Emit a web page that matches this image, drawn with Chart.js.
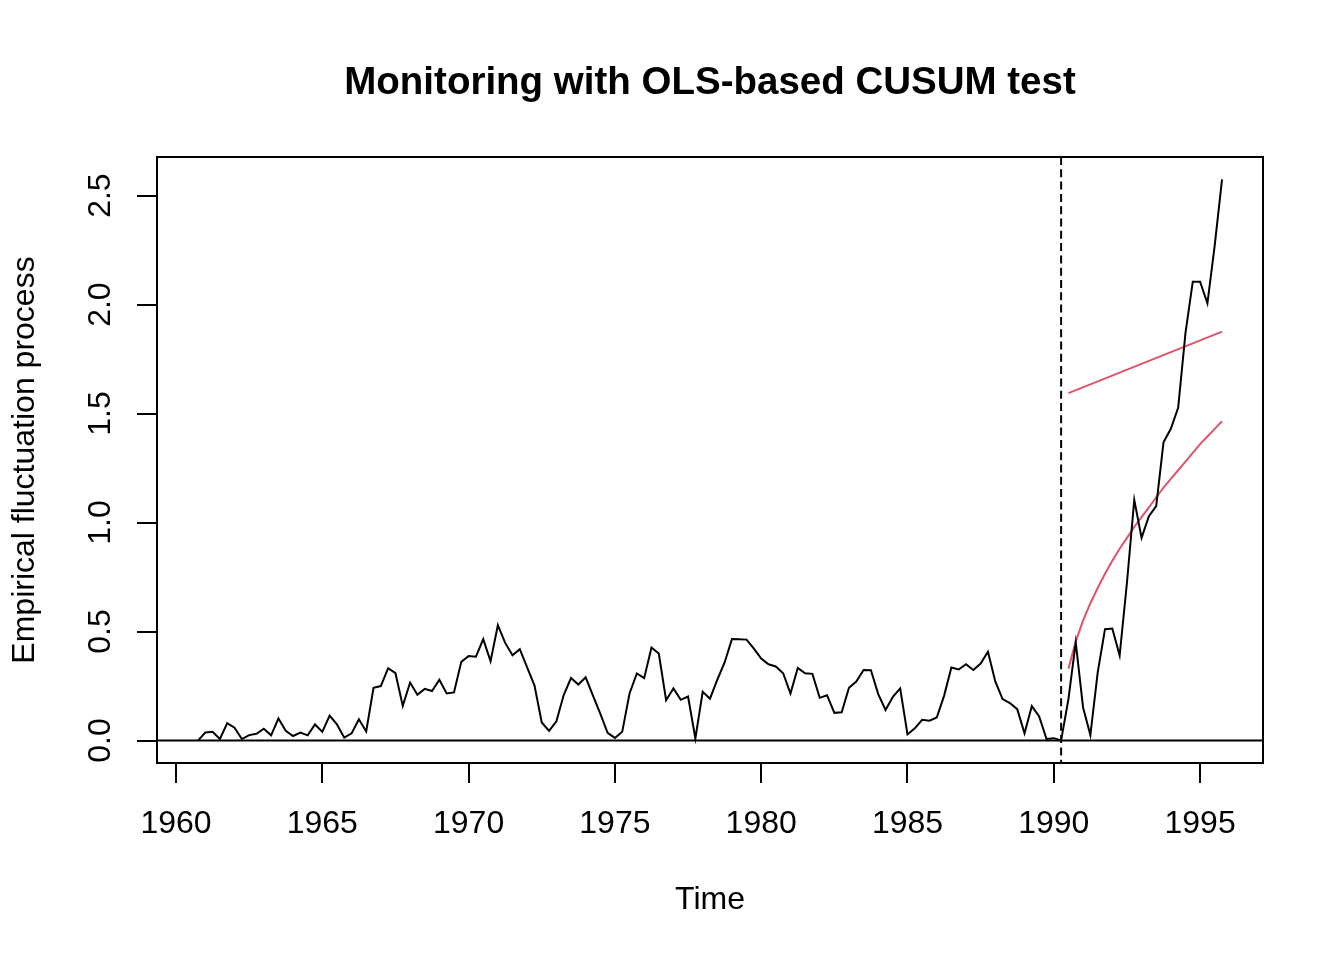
<!DOCTYPE html>
<html>
<head>
<meta charset="utf-8">
<title>Monitoring with OLS-based CUSUM test</title>
<script src="https://cdn.jsdelivr.net/npm/chart.js@4.4.1/dist/chart.umd.min.js"></script>
<style>
  html, body { margin: 0; padding: 0; background: #fff; }
  #wrap { width: 1344px; height: 960px; }
</style>
</head>
<body>
<div id="wrap"><canvas id="chart"></canvas></div>
<script>
// quarterly series, first observation 1960 Q4
const start = 1960.75;
const freq = 4;

// empirical fluctuation process (OLS-based CUSUM)
const process = [
  0.000, 0.037, 0.040, 0.007, 0.080, 0.059, 0.007, 0.025, 0.031, 0.054,
  0.024, 0.101, 0.045, 0.021, 0.037, 0.024, 0.074, 0.040, 0.114, 0.074,
  0.013, 0.033, 0.098, 0.042, 0.242, 0.250, 0.332, 0.309, 0.159, 0.266,
  0.210, 0.237, 0.227, 0.279, 0.216, 0.221, 0.361, 0.388, 0.385, 0.465,
  0.364, 0.529, 0.448, 0.391, 0.419, 0.336, 0.253, 0.083, 0.044, 0.088,
  0.209, 0.287, 0.257, 0.290, 0.206, 0.124, 0.035, 0.012, 0.040, 0.216,
  0.308, 0.286, 0.427, 0.399, 0.185, 0.239, 0.187, 0.202, 0.010, 0.224,
  0.192, 0.279, 0.358, 0.466, 0.465, 0.463, 0.422, 0.376, 0.350, 0.340,
  0.309, 0.216, 0.333, 0.309, 0.306, 0.196, 0.208, 0.127, 0.130, 0.242,
  0.271, 0.324, 0.323, 0.213, 0.140, 0.201, 0.239, 0.028, 0.056, 0.095,
  0.091, 0.106, 0.205, 0.335, 0.326, 0.350, 0.324, 0.353, 0.407, 0.271,
  0.190, 0.172, 0.144, 0.033, 0.158, 0.111, 0.007, 0.011, 0.000, 0.190,
  0.450, 0.152, 0.025, 0.312, 0.511, 0.514, 0.390, 0.724, 1.104, 0.930,
  1.029, 1.075, 1.368, 1.430, 1.526, 1.869, 2.105, 2.105, 2.006, 2.271,
  2.574
];

// end of the history period (dashed line) and start of monitoring
const histEnd = 1990.25;
const monStart = 1990.5;

// curved boundary, one value per quarter from 1990 Q3
const boundCurve = [
  0.330, 0.455, 0.550, 0.630, 0.700, 0.765, 0.825, 0.880, 0.930, 0.980,
  1.025, 1.070, 1.115, 1.160, 1.200, 1.240, 1.280, 1.320, 1.360, 1.395,
  1.430, 1.465
];

// straight boundary, its two end points
const boundLineTimes = [1990.5, 1995.75];
const boundLine = [1.594, 1.876];

const xTicks = [1960, 1965, 1970, 1975, 1980, 1985, 1990, 1995];
const xTickLabels = ['1960', '1965', '1970', '1975', '1980', '1985', '1990', '1995'];
const yTicks = [0, 0.5, 1, 1.5, 2, 2.5];
const yTickLabels = ['0.0', '0.5', '1.0', '1.5', '2.0', '2.5'];

const titleText = 'Monitoring with OLS-based CUSUM test';
const xTitle = 'Time';
const yTitle = 'Empirical fluctuation process';

const FONT = '"Liberation Sans", Arial, Helvetica, sans-serif';
const RED = '#DF536B';

const processPts = process.map((v, i) => ({ x: start + i / freq, y: v }));
const curvePts = boundCurve.map((v, i) => ({ x: monStart + i / freq, y: v }));
const linePts = boundLine.map((v, i) => ({ x: boundLineTimes[i], y: v }));

// R style 4% extension of the ranges
const tEnd = start + (process.length - 1) / freq;
const xPad = (tEnd - start) * 0.04;
const yMax = Math.max(...process);
const yPad = yMax * 0.04;

const rFrame = {
    id: 'rFrame',
    afterDatasetsDraw(chart) {
        const { ctx, chartArea: a, scales: { x, y } } = chart;
        ctx.save();
        ctx.strokeStyle = '#000';
        ctx.lineWidth = 2;

        // abline(h = 0)
        const y0 = y.getPixelForValue(0);
        ctx.beginPath();
        ctx.moveTo(a.left, y0);
        ctx.lineTo(a.right, y0);
        ctx.stroke();

        // dashed line at end of history
        const xh = x.getPixelForValue(histEnd);
        ctx.setLineDash([8, 4.3]);
        ctx.beginPath();
        ctx.moveTo(xh, a.top);
        ctx.lineTo(xh, a.bottom);
        ctx.stroke();
        ctx.setLineDash([]);

        ctx.strokeRect(a.left, a.top, a.right - a.left, a.bottom - a.top);
        ctx.restore();
    },
    afterDraw(chart) {
        const { ctx, chartArea: a, scales: { x, y } } = chart;
        ctx.save();
        ctx.fillStyle = '#000';
        ctx.font = '32px ' + FONT;
        ctx.textAlign = 'center';
        ctx.textBaseline = 'alphabetic';

        xTicks.forEach((v, i) => {
            ctx.fillText(xTickLabels[i], x.getPixelForValue(v), a.bottom + 69.5);
        });
        yTicks.forEach((v, i) => {
            ctx.save();
            ctx.translate(a.left - 47, y.getPixelForValue(v));
            ctx.rotate(-Math.PI / 2);
            ctx.fillText(yTickLabels[i], 0, 0);
            ctx.restore();
        });

        ctx.fillText(xTitle, (a.left + a.right) / 2, a.bottom + 146);
        ctx.save();
        ctx.translate(a.left - 123, (a.top + a.bottom) / 2);
        ctx.rotate(-Math.PI / 2);
        ctx.fillText(yTitle, 0, 0);
        ctx.restore();
        ctx.restore();
    }
};

new Chart(document.getElementById('chart'), {
    type: 'line',
    data: {
        datasets: [
            {
                label: 'process',
                data: processPts,
                borderColor: '#000',
                borderWidth: 2,
                pointRadius: 0,
                tension: 0,
                fill: false
            },
            {
                label: 'boundary',
                data: curvePts,
                borderColor: RED,
                borderWidth: 2,
                pointRadius: 0,
                tension: 0,
                fill: false
            },
            {
                label: 'boundary (linear)',
                data: linePts,
                borderColor: RED,
                borderWidth: 2,
                pointRadius: 0,
                tension: 0,
                fill: false
            }
        ]
    },
    options: {
        responsive: true,
        maintainAspectRatio: false,
        animation: false,
        events: [],
        layout: {
            padding: { left: 0, right: 81, top: 0, bottom: 0 }
        },
        plugins: {
            legend: { display: false },
            tooltip: { enabled: false },
            title: {
                display: true,
                text: titleText,
                color: '#000',
                fullSize: false,
                font: { family: FONT, size: 38.5, weight: 'bold', lineHeight: 1.2 },
                padding: { top: 60, bottom: 50.8 }
            }
        },
        scales: {
            x: {
                type: 'linear',
                min: start - xPad,
                max: tEnd + xPad,
                afterBuildTicks: axis => { axis.ticks = xTicks.map(v => ({ value: v })); },
                afterFit: axis => { axis.height = 197; },
                ticks: { display: false },
                border: { display: false },
                grid: {
                    drawOnChartArea: false,
                    drawTicks: true,
                    tickLength: 20,
                    color: '#000',
                    lineWidth: 2
                }
            },
            y: {
                type: 'linear',
                min: -yPad,
                max: yMax + yPad,
                afterBuildTicks: axis => { axis.ticks = yTicks.map(v => ({ value: v })); },
                afterFit: axis => { axis.width = 157; },
                ticks: { display: false },
                border: { display: false },
                grid: {
                    drawOnChartArea: false,
                    drawTicks: true,
                    tickLength: 20,
                    color: '#000',
                    lineWidth: 2
                }
            }
        }
    },
    plugins: [rFrame]
});
</script>
</body>
</html>
